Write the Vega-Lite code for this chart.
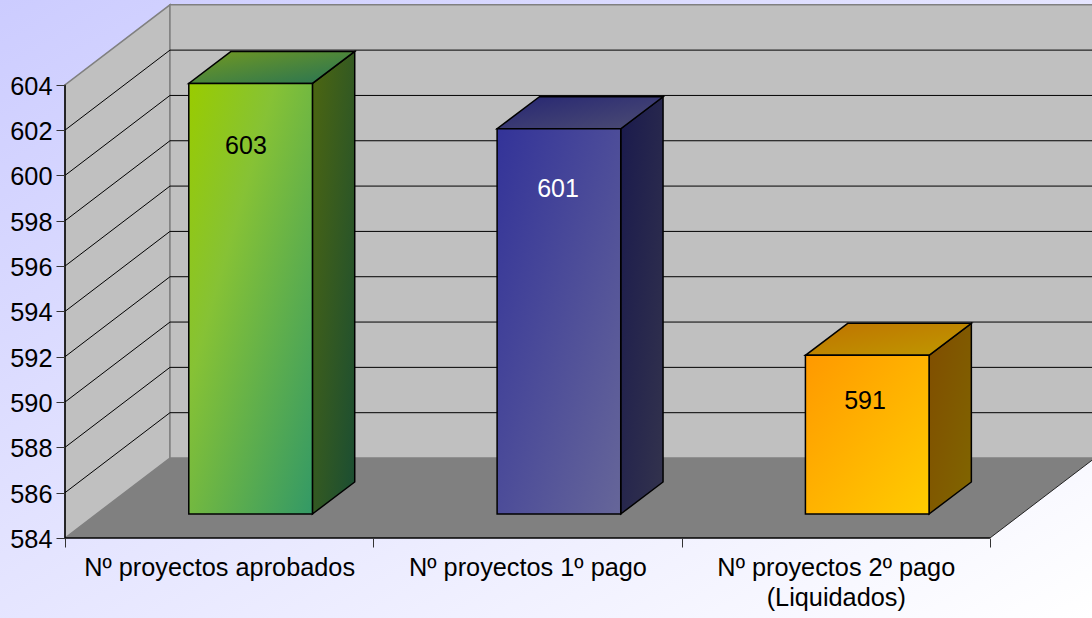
{
"$schema":"https://vega.github.io/schema/vega-lite/v6.json",
"width":1027,"height":538,
"autosize":{"type":"none"},
"padding":{"left":65,"top":0,"right":0,"bottom":80},
"background":"#ffffff",
"config":{"view":{"stroke":null},"font":"Liberation Sans","axis":{"title":null}},
"datasets":{
"bars":[{"category":"Nº proyectos aprobados","order":0,"value":603},{"category":"Nº proyectos 1º pago","order":1,"value":601},{"category":"Nº proyectos 2º pago (Liquidados)","order":2,"value":591}],
"ticks":[{"tick":584},{"tick":586},{"tick":588},{"tick":590},{"tick":592},{"tick":594},{"tick":596},{"tick":598},{"tick":600},{"tick":602},{"tick":604}],
"one":[{"n":1}]
},
"resolve":{"axis":{"x":"independent","y":"independent"}},
"layer":[
{"data":{"name":"one"},
 "mark":{"type":"rect","clip":false,"fill":{"gradient":"linear","x1":0,"y1":0,"x2":1,"y2":1,"stops":[{"offset":0,"color":"#ccccff"},{"offset":1,"color":"#ffffff"}]}},
 "encoding":{
  "x":{"datum":-0.2108,"type":"quantitative","scale":{"domain":[0,3.331],"nice":false,"zero":false},
    "axis":{"orient":"bottom","values":[0,1,2,3],"labels":false,"domain":false,"grid":false,"tickSize":9,"tickColor":"#333333","tickWidth":1,"zindex":1}},
  "x2":{"datum":3.331},
  "y":{"datum":580.47,"type":"quantitative","scale":{"domain":[584,607.742],"nice":false,"zero":false},
    "axis":{"orient":"left","values":[584,586,588,590,592,594,596,598,600,602,604],"domain":false,"grid":false,"tickSize":9,"tickColor":"#333333","tickWidth":1,"labelFontSize":25.3,"labelColor":"#000000","labelPadding":4,"labelOffset":1.5,"labelFont":"Liberation Sans","zindex":1}},
  "y2":{"datum":607.742}}},
{"data":{"name":"one"},
 "transform":[{"calculate":"[0,1]","as":"t"},{"flatten":["t"]},{"calculate":"datum.t*0.3405","as":"x"},{"calculate":"584+datum.t*3.53","as":"y0"},{"calculate":"604+datum.t*3.53","as":"y1"}],
 "mark":{"type":"area","fill":"#c0c0c0","stroke":"#808080","strokeWidth":1.5,"clip":false},
 "encoding":{"x":{"field":"x","type":"quantitative",
    "axis":{"orient":"bottom","values":[0.5,1.5,2.5],"domain":false,"grid":false,"ticks":false,"labelAngle":0,"labelFontSize":25.3,"labelColor":"#000000","labelFont":"Liberation Sans","labelPadding":17,"labelLineHeight":30,"labelLimit":0,"labelOverlap":false,"labelBaseline":"top","labelFlush":false,"zindex":1,
    "labelExpr":"datum.value==0.5?'Nº proyectos aprobados':datum.value==1.5?'Nº proyectos 1º pago':['Nº proyectos 2º pago','(Liquidados)']"}},
  "y":{"field":"y0","type":"quantitative","axis":null},"y2":{"field":"y1"}}},
{"data":{"name":"one"},
 "mark":{"type":"rect","fill":"#c0c0c0","stroke":"#808080","strokeWidth":1.5,"clip":true},
 "encoding":{"x":{"datum":0.3405,"type":"quantitative","axis":null},"x2":{"datum":3.5},"y":{"datum":587.53,"type":"quantitative","axis":null},"y2":{"datum":607.53}}},
{"data":{"name":"ticks"},
 "transform":[{"filter":"datum.tick>584 && datum.tick<604"},{"calculate":"datum.tick+3.53","as":"back"}],
 "mark":{"type":"rule","stroke":"#000000","strokeWidth":1,"clip":true},
 "encoding":{"x":{"datum":0.3405,"type":"quantitative","axis":null},"x2":{"datum":3.5},"y":{"field":"back","type":"quantitative","axis":null}}},
{"data":{"name":"ticks"},
 "transform":[{"filter":"datum.tick>584 && datum.tick<604"},{"calculate":"datum.tick+3.53","as":"back"}],
 "mark":{"type":"rule","stroke":"#000000","strokeWidth":1},
 "encoding":{"x":{"datum":0,"type":"quantitative","axis":null},"x2":{"datum":0.3405},"y":{"field":"tick","type":"quantitative","axis":null},"y2":{"field":"back"}}},
{"data":{"name":"one"},
 "transform":[{"calculate":"[0,1]","as":"t"},{"flatten":["t"]},{"calculate":"datum.t*0.3405","as":"x0"},{"calculate":"3+datum.t*0.3405","as":"x1"},{"calculate":"584+datum.t*3.53","as":"y"}],
 "mark":{"type":"area","orient":"horizontal","fill":"#808080","clip":true},
 "encoding":{"x":{"field":"x0","type":"quantitative","axis":null},"x2":{"field":"x1"},"y":{"field":"y","type":"quantitative","axis":null}}},
{"data":{"name":"one"},
 "mark":{"type":"rule","stroke":"#000000","strokeWidth":1.5,"clip":false},
 "encoding":{"x":{"datum":0,"type":"quantitative","axis":null},"x2":{"datum":3},"y":{"datum":584,"type":"quantitative","axis":null}}},
{"data":{"name":"one"},
 "mark":{"type":"rule","stroke":"#222222","strokeWidth":1,"clip":true},
 "encoding":{"x":{"datum":3,"type":"quantitative","axis":null},"x2":{"datum":3.3405},"y":{"datum":584,"type":"quantitative","axis":null},"y2":{"datum":587.53}}},
{"data":{"name":"one"},
 "mark":{"type":"rule","stroke":"#000000","strokeWidth":1.5,"clip":false},
 "encoding":{"x":{"datum":0,"type":"quantitative","axis":null},"y":{"datum":584,"type":"quantitative","axis":null},"y2":{"datum":604}}},
{"data":{"name":"bars"},
 "transform":[{"calculate":"[0,1]","as":"t"},{"flatten":["t"]},{"calculate":"datum.order+0.8025+datum.t*0.1372","as":"x"},{"calculate":"585.06+datum.t*1.412","as":"y0"},{"calculate":"datum.value+1.06+datum.t*1.412","as":"y1"}],
 "mark":{"type":"area","stroke":"#000000","strokeWidth":1.5,"strokeJoin":"miter"},
 "encoding":{"x":{"field":"x","type":"quantitative","axis":null},"y":{"field":"y0","type":"quantitative","axis":null},"y2":{"field":"y1"},
  "detail":{"field":"category"},
  "fill":{"condition":[
   {"test":"datum.order==0","value":{"gradient":"linear","x1":0,"y1":0,"x2":1,"y2":1,"stops":[{"offset":0,"color":"#4d6610"},{"offset":1,"color":"#1a4d33"}]}},
   {"test":"datum.order==1","value":{"gradient":"linear","x1":0,"y1":0,"x2":1,"y2":1,"stops":[{"offset":0,"color":"#1a1a4d"},{"offset":1,"color":"#33334d"}]}}],
   "value":{"gradient":"linear","x1":0,"y1":0,"x2":1,"y2":1,"stops":[{"offset":0,"color":"#804d00"},{"offset":1,"color":"#806600"}]}}}},
{"data":{"name":"bars"},
 "transform":[{"calculate":"[0,1]","as":"t"},{"flatten":["t"]},{"calculate":"datum.order+0.4015+datum.t*0.1372","as":"x0"},{"calculate":"datum.order+0.8025+datum.t*0.1372","as":"x1"},{"calculate":"datum.value+1.06+datum.t*1.412","as":"y"}],
 "mark":{"type":"area","orient":"horizontal","stroke":"#000000","strokeWidth":1.5,"strokeJoin":"miter"},
 "encoding":{"x":{"field":"x0","type":"quantitative","axis":null},"x2":{"field":"x1"},"y":{"field":"y","type":"quantitative","axis":null},
  "detail":{"field":"category"},
  "fill":{"condition":[
   {"test":"datum.order==0","value":{"gradient":"linear","x1":0,"y1":0,"x2":1,"y2":1,"stops":[{"offset":0,"color":"#739920"},{"offset":1,"color":"#267355"}]}},
   {"test":"datum.order==1","value":{"gradient":"linear","x1":0,"y1":0,"x2":1,"y2":1,"stops":[{"offset":0,"color":"#262673"},{"offset":1,"color":"#4d4d73"}]}}],
   "value":{"gradient":"linear","x1":0,"y1":0,"x2":1,"y2":1,"stops":[{"offset":0,"color":"#bf7300"},{"offset":1,"color":"#bf9900"}]}}}},
{"data":{"name":"bars"},
 "transform":[{"calculate":"datum.order+0.4015","as":"x0"},{"calculate":"datum.order+0.8025","as":"x1"},{"calculate":"datum.value+1.06","as":"y1"},{"calculate":"585.06","as":"y0"}],
 "mark":{"type":"rect","stroke":"#000000","strokeWidth":1.5},
 "encoding":{"x":{"field":"x0","type":"quantitative","axis":null},"x2":{"field":"x1"},"y":{"field":"y0","type":"quantitative","axis":null},"y2":{"field":"y1"},
  "fill":{"condition":[
   {"test":"datum.order==0","value":{"gradient":"linear","x1":0,"y1":0,"x2":1,"y2":1,"stops":[{"offset":0,"color":"#99cc00"},{"offset":0.35,"color":"#86c235"},{"offset":1,"color":"#339966"}]}},
   {"test":"datum.order==1","value":{"gradient":"linear","x1":0,"y1":0,"x2":1,"y2":1,"stops":[{"offset":0,"color":"#333399"},{"offset":1,"color":"#666699"}]}}],
   "value":{"gradient":"linear","x1":0,"y1":0,"x2":1,"y2":1,"stops":[{"offset":0,"color":"#ff9900"},{"offset":1,"color":"#ffcc00"}]}}}},
{"data":{"name":"bars"},
 "transform":[{"calculate":"datum.order==1?1.599:datum.order*1.004+0.587","as":"lx"},{"calculate":"datum.value-0.954-(datum.value-591)*0.0625","as":"ly"}],
 "mark":{"type":"text","fontSize":25,"font":"Liberation Sans","align":"center","baseline":"middle"},
 "encoding":{"x":{"field":"lx","type":"quantitative","axis":null},"y":{"field":"ly","type":"quantitative","axis":null},"text":{"field":"value","type":"quantitative"},
  "color":{"condition":{"test":"datum.value==601","value":"#ffffff"},"value":"#000000"}}}
]}
